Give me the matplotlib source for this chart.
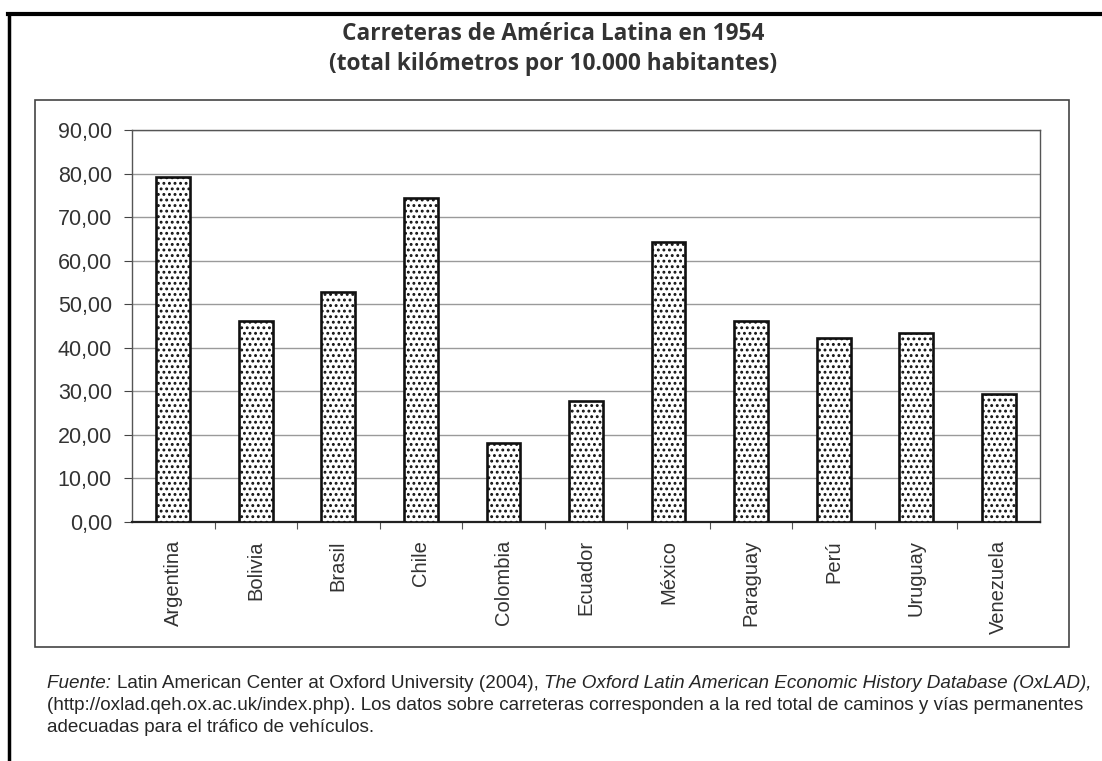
import matplotlib
matplotlib.use("Agg")
import matplotlib.pyplot as plt
from matplotlib.patches import Rectangle
from matplotlib.lines import Line2D
from matplotlib.ticker import FixedLocator, FuncFormatter

paises = ["Argentina", "Bolivia", "Brasil", "Chile", "Colombia", "Ecuador",
          "México", "Paraguay", "Perú", "Uruguay", "Venezuela"]
km_por_10000 = [79.1, 46.1, 52.8, 74.3, 18.1, 27.7, 64.2, 46.1, 42.2, 43.3, 29.4]
y_ticks = [0, 10, 20, 30, 40, 50, 60, 70, 80, 90]

titulo = "Carreteras de América Latina en 1954\n(total kilómetros por 10.000 habitantes)"
fuente_1 = "Latin American Center at Oxford University (2004), "
fuente_1b = "The Oxford Latin American Economic History Database (OxLAD),"
fuente_2 = ("(http://oxlad.qeh.ox.ac.uk/index.php). Los datos sobre carreteras corresponden "
            "a la red total de caminos y vías permanentes")
fuente_3 = "adecuadas para el tráfico de vehículos."

plt.rcParams['font.family'] = ['Liberation Sans', 'DejaVu Sans']
plt.rcParams['hatch.color'] = '#1a1a1a'
plt.rcParams['hatch.linewidth'] = 1.3

texto = '#333333'
fig = plt.figure(figsize=(11.02, 7.61), dpi=100)
fig.patch.set_facecolor('white')

# page border (top and left rules)
fig.add_artist(Line2D([0.007, 1.0], [0.982, 0.982], transform=fig.transFigure,
                      color='black', lw=3.0))
fig.add_artist(Line2D([0.008, 0.008], [0.0, 0.982], transform=fig.transFigure,
                      color='black', lw=2.5))

# frame around the chart
fig.add_artist(Rectangle((0.0318, 0.1498), 0.9383, 0.7188, transform=fig.transFigure,
                         fill=False, edgecolor='#444444', lw=1.2))

ax = fig.add_axes([0.1198, 0.3140, 0.8239, 0.5152])
x = list(range(len(paises)))
ax.bar(x, km_por_10000, width=0.41, facecolor='white', edgecolor='#111111',
       linewidth=1.9, hatch='...', zorder=3)

ax.set_xlim(-0.5, len(paises) - 0.5)
ax.set_ylim(0, 90)
ax.yaxis.set_major_locator(FixedLocator(y_ticks))
ax.yaxis.set_major_formatter(FuncFormatter(lambda v, p: f"{v:.2f}".replace('.', ',')))
ax.grid(axis='y', color='#9a9a9a', lw=1.0, zorder=0)

ax.set_xticks([i + 0.5 for i in x[:-1]])
ax.set_xticklabels([])
ax.set_xticks(x, minor=True)
ax.set_xticklabels(paises, minor=True, rotation=90, va='top', ha='center',
                   fontsize=14.5, color=texto)
ax.tick_params(axis='x', which='minor', length=0, pad=13)
ax.tick_params(axis='x', which='major', length=5, direction='out', color='#555555')
ax.tick_params(axis='y', length=6, direction='out', color='#444444', labelsize=15.5,
               labelcolor=texto, pad=8.5)

for s in ax.spines.values():
    s.set_color('#555555')
    s.set_linewidth(1.0)
ax.spines['bottom'].set_color('#222222')
ax.spines['bottom'].set_linewidth(1.6)

fig.text(0.502, 0.936, titulo, ha='center', va='center', fontsize=16.3,
         fontweight='bold', color='#333333', family=['Open Sans', 'DejaVu Sans'],
         linespacing=1.35)

# source note
fs = 13.6
col = '#262626'
t1 = fig.text(0.043, 0.096, "Fuente: ", style='italic', fontsize=fs, color=col)
fig.canvas.draw()
r = fig.canvas.get_renderer()
bb = t1.get_window_extent(r)
t2 = fig.text(bb.x1 / fig.bbox.width, 0.096, fuente_1, fontsize=fs, color=col)
bb2 = t2.get_window_extent(r)
fig.text(bb2.x1 / fig.bbox.width, 0.096, fuente_1b, style='italic', fontsize=fs,
         color=col)
fig.text(0.043, 0.067, fuente_2, fontsize=fs, color=col)
fig.text(0.043, 0.038, fuente_3, fontsize=fs, color=col)

fig.savefig("out.png", dpi=100, facecolor='white')
